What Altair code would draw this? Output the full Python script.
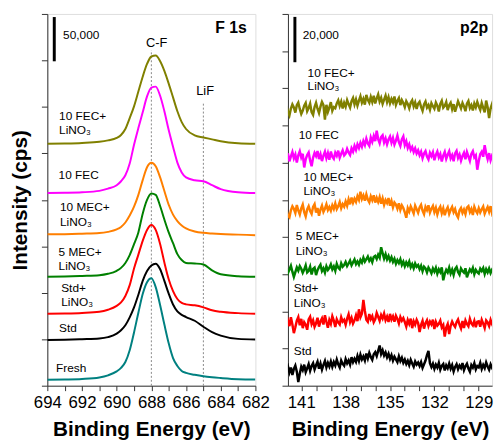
import altair as alt
import pandas as pd

FONT = "Liberation Sans"

# ---------------- F 1s panel data (intensity in kcps) ----------------
f1s_energy = [694, 693, 692, 691, 690.5, 690, 689.75, 689.5, 689.25, 689, 688.75, 688.5,
              688.25, 688, 687.75, 687.5, 687.25, 687, 686.75, 686.5, 686.25, 686, 685.5,
              685, 684.5, 684, 683, 682]
f1s_samples = ["10 FEC+LiNO3", "10 FEC", "10 MEC+LiNO3", "5 MEC+LiNO3", "Std+LiNO3", "Std", "Fresh"]
f1s_colors = ["#808000", "#FF00FF", "#FF7F00", "#008000", "#FF0000", "#000000", "#008080"]
f1s_offsets = [273.3, 217.6, 171.0, 123.1, 81.3, 51.6, 6.7]
f1s_fec_lino3 = [0, 0.3, 0.9, 2.2, 3.9, 6.7, 10.0, 16.7, 29.0, 42.3, 59.0, 75.8, 90.2, 98.6,
                 99.7, 93.6, 82.4, 68.0, 52.4, 36.8, 24.5, 16.7, 9.5, 7.2, 5.0, 2.8, 0.6, 0]
f1s_fec = [0, 0.3, 0.9, 2.5, 5.0, 8.9, 13.4, 20.1, 33.4, 54.6, 73.5, 91.3, 109.2, 119.2,
           120.3, 110.3, 92.5, 71.3, 52.4, 34.5, 23.4, 17.8, 14.5, 13.4, 8.9, 4.5, 0.9, 0]
f1s_mec10 = [0, 0.2, 0.7, 1.4, 2.8, 5.6, 8.4, 13.4, 21.2, 31.2, 44.6, 61.3, 75.8, 80.8,
             76.9, 64.6, 49.0, 33.4, 22.3, 15.0, 10.0, 6.7, 3.3, 1.7, 0.9, 0.3, -0.3, -0.9]
f1s_mec5 = [0, 0.3, 0.9, 1.7, 3.3, 6.7, 10.0, 15.6, 24.5, 36.8, 50.1, 71.3, 86.9, 94.1,
            92.5, 80.2, 64.6, 50.1, 37.9, 25.6, 18.9, 15.6, 15.0, 13.9, 7.2, 2.8, 0.6, 0]
f1s_std_lino3 = [0, 0.3, 0.9, 2.2, 4.5, 8.9, 12.8, 20.1, 32.3, 51.2, 66.8, 82.4, 94.7, 100.3,
                 94.7, 79.1, 57.9, 39.0, 25.6, 16.7, 12.3, 10.6, 9.5, 7.2, 3.9, 2.2, 0.7, 0]
f1s_std = [0, 0.3, 0.9, 1.7, 3.3, 7.2, 11.1, 16.7, 25.6, 36.8, 51.2, 66.8, 78.0, 84.1,
           86.2, 80.2, 66.8, 52.4, 40.1, 32.3, 28.5, 26.0, 21.8, 15.0, 8.9, 5.0, 1.3, 0.6]
f1s_fresh = [0, 0.3, 0.9, 2.6, 5.0, 9.5, 13.4, 20.1, 33.4, 53.5, 75.8, 96.9, 110.3, 114.7,
             104.7, 84.7, 62.4, 41.2, 24.5, 15.6, 10.0, 7.8, 5.6, 3.9, 2.8, 2.0, 0.7, 0.3]
f1s_profiles = [f1s_fec_lino3, f1s_fec, f1s_mec10, f1s_mec5, f1s_std_lino3, f1s_std, f1s_fresh]

# ---------------- P 2p panel data (intensity in kcps) ----------------
p2p_energy = [142.0, 141.9, 141.8, 141.7, 141.6, 141.5, 141.4, 141.3, 141.2, 141.1,
              141.0, 140.9, 140.8, 140.7, 140.6, 140.5, 140.4, 140.3, 140.2, 140.1,
              140.0, 139.9, 139.8, 139.7, 139.6, 139.5, 139.4, 139.3, 139.2, 139.1,
              139.0, 138.9, 138.8, 138.7, 138.6, 138.5, 138.4, 138.3, 138.2, 138.1,
              138.0, 137.9, 137.8, 137.7, 137.6, 137.5, 137.4, 137.3, 137.2, 137.1,
              137.0, 136.9, 136.8, 136.7, 136.6, 136.5, 136.4, 136.3, 136.2, 136.1,
              136.0, 135.9, 135.8, 135.7, 135.6, 135.5, 135.4, 135.3, 135.2, 135.1,
              135.0, 134.9, 134.8, 134.7, 134.6, 134.5, 134.4, 134.3, 134.2, 134.1,
              134.0, 133.9, 133.8, 133.7, 133.6, 133.5, 133.4, 133.3, 133.2, 133.1,
              133.0, 132.9, 132.8, 132.7, 132.6, 132.5, 132.4, 132.3, 132.2, 132.1,
              132.0, 131.9, 131.8, 131.7, 131.6, 131.5, 131.4, 131.3, 131.2, 131.1,
              131.0, 130.9, 130.8, 130.7, 130.6, 130.5, 130.4, 130.3, 130.2, 130.1,
              130.0, 129.9, 129.8, 129.7, 129.6, 129.5, 129.4, 129.3, 129.2, 129.1,
              129.0, 128.9, 128.8, 128.7, 128.6, 128.5, 128.4, 128.3, 128.2, 128.1,
              128.0]
p2p_samples = ["10 FEC+LiNO3", "10 FEC", "10 MEC+LiNO3", "5 MEC+LiNO3", "Std+LiNO3", "Std"]
p2p_colors = ["#808000", "#FF00FF", "#FF7F00", "#008000", "#FF0000", "#000000"]
p2p_offsets = [121.9, 100.9, 77.0, 50.9, 27.8, 6.5]
p2p_fec_lino3 = [1.5, -1.0, -2.6, 0.4, 2.2, 0.9, -1.4, 1.8, 3.0, 0.2,
                 -2.0, -0.5, 1.6, 2.8, -0.8, 0.6, 2.5, -1.2, -2.4, 1.0,
                 2.9, 0.3, -1.6, 1.2, 3.3, 1.9, -4.5, 2.0, -1.1, 0.8,
                 3.2, -0.6, 1.0, 0.5, 2.6, 4.0, 1.5, 3.4, 0.4, 2.9,
                 1.2, 4.1, 2.3, 0.8, 3.6, 5.0, 2.2, 4.4, 1.7, 3.9,
                 5.8, 3.0, 4.6, 2.1, 6.4, 4.2, 2.9, 5.5, 3.3, 6.0,
                 2.6, 4.8, 6.6, 3.5, 5.1, 2.4, 4.3, 6.1, 3.2, 5.4,
                 2.7, 4.6, 3.1, 5.7, 2.0, 3.8, 5.0, 1.9, 4.1, 2.8,
                 1.0, 3.6, 2.4, 0.5, 2.9, 4.0, 1.3, 3.1, 0.2, 2.5,
                 3.4, 1.1, -0.6, 2.2, 3.5, 0.8, 1.9, -0.2, 2.7, 1.4,
                 0.3, 3.0, 1.6, -0.9, 2.4, 3.8, 0.7, 1.5, 3.2, -0.3,
                 1.8, 2.9, 0.1, 2.3, -1.0, 1.2, 3.6, 2.0, 0.4, 2.8,
                 1.3, -0.8, 2.5, 3.7, 0.6, 1.9, -0.5, 2.6, 0.9, 3.3,
                 1.4, -0.2, 2.8, 0.7, -1.3, 3.9, 1.0, -3.8, 0.5, 2.4,
                 -0.6]
p2p_fec = [-0.8, 1.6, -1.9, 0.3, 2.2, -0.6, 1.1, -2.4, 0.7, 2.5,
           -0.2, 1.4, -4.6, -1.0, 0.9, 2.0, -1.5, -4.1, -0.3, 1.8,
           0.4, 2.6, -0.9, 1.2, -1.8, 0.6, 2.3, -0.5, 1.7, -1.2,
           2.4, 0.1, -0.8, 1.9, 0.5, 2.8, -0.3, 1.4, 2.9, 0.7,
           1.5, 3.6, 2.0, 0.9, 3.8, 2.4, 4.9, 3.1, 5.6, 4.0,
           6.2, 4.5, 7.0, 5.3, 8.1, 6.0, 4.9, 8.6, 6.7, 9.2,
           7.0, 11.6, 7.9, 6.1, 8.8, 9.6, 6.4, 8.2, 5.6, 7.7,
           9.0, 6.3, 8.4, 5.5, 7.2, 9.4, 6.6, 4.9, 7.8, 9.1,
           5.2, 6.9, 4.0, 5.6, 3.1, 4.4, 2.2, 3.8, 1.6, 2.9,
           0.8, 2.3, -0.5, 1.5, 2.6, 0.2, -1.1, 1.8, 0.4, 2.1,
           -1.4, 0.9, 2.4, -0.2, 1.3, -2.0, 0.6, 2.2, -0.8, 1.0,
           2.5, -0.6, 0.8, -1.9, 1.6, 2.7, -0.4, 1.1, -1.6, 0.5,
           1.9, -1.0, 2.2, 0.3, -1.7, 1.4, 2.6, -0.2, 0.7, -5.6,
           -1.8, 1.2, 2.3, 0.1, 5.2, 1.5, -0.9, 1.7, -1.4, 0.6,
           -0.5]
p2p_mec10 = [0.6, -1.9, -2.7, 0.4, 2.1, 1.0, -0.8, 2.7, 0.3, -1.5,
             1.2, 2.9, -0.4, -2.3, 0.8, 2.2, 0.1, -1.2, 1.9, 3.1,
             -0.6, 1.4, -2.0, 0.7, 2.4, -0.3, 1.1, 3.0, 0.5, 1.8,
             0.2, 2.6, 1.0, 3.4, 0.9, 2.2, 4.0, 1.3, 3.1, 2.0,
             4.3, 2.4, 5.2, 3.0, 6.0, 3.7, 5.5, 4.1, 6.6, 5.0,
             8.6, 5.4, 6.9, 4.6, 7.4, 5.1, 3.9, 6.5, 4.8, 7.0,
             3.8, 5.9, 4.1, 6.2, 3.3, 5.6, 2.8, 4.9, 3.6, 5.8,
             2.4, 4.5, 1.7, 3.8, 2.9, 1.1, 3.5, 0.6, 2.6, 1.4,
             -0.5, -2.9, 1.3, -0.2, 2.1, 0.6, -1.0, 2.4, 0.9, -0.7,
             1.6, 2.8, 0.2, -1.3, 1.9, 0.5, 2.6, -0.6, 1.1, 2.3,
             -0.4, 1.5, -1.4, 0.8, 2.0, -0.9, 1.2, -1.8, 0.4, 1.7,
             -1.2, 0.6, 1.9, -0.5, 0.9, -1.6, -2.8, 0.3, 1.4, -0.8,
             0.7, -1.3, 1.6, 2.2, -0.4, 1.0, -1.7, 1.9, 0.2, -0.9,
             1.3, -0.6, 0.8, 2.0, -1.1, 0.5, 1.8, -0.3, 2.2, -1.0,
             0.4]
p2p_mec5 = [1.0, -1.2, 0.4, 2.0, -0.6, -2.9, -0.8, 1.3, -0.1, 1.9,
            0.7, -1.1, 0.3, 2.2, -0.9, -0.2, 1.6, -1.8, 0.6, 1.2,
            -2.1, 0.1, 1.4, 2.5, -0.3, 0.9, -1.0, 1.8, 0.2, 1.1,
            2.6, 0.4, 1.7, -0.2, 2.9, 1.2, 0.5, 3.1, 1.6, 2.3,
            3.7, 1.9, 3.0, 4.3, 2.2, 3.5, 4.8, 2.7, 3.9, 2.5,
            4.6, 3.4, 5.6, 3.8, 4.9, 6.1, 4.2, 5.3, 3.6, 5.9,
            6.4, 5.0, 6.9, 5.6, 10.2, 7.6, 5.2, 7.1, 4.8, 6.3,
            4.3, 5.8, 3.7, 5.1, 2.9, 4.5, 3.2, 4.9, 2.4, 3.8,
            1.8, 3.5, 2.2, 3.9, 1.4, 2.7, 0.9, 3.0, 1.6, 2.3,
            0.5, 2.0, -0.4, 1.6, 0.9, -0.9, 1.2, 0.1, -1.3, 0.8,
            -0.6, 1.1, -1.5, 0.4, -0.8, 1.3, -4.4, -1.6, 0.2, -0.9,
            1.2, -1.4, 0.3, -2.0, 0.6, 1.5, -0.7, -1.9, 0.8, -0.3,
            -1.0, 0.9, -3.1, -1.2, 0.4, -0.6, 1.1, -1.7, 0.2, -0.8,
            -1.4, 0.7, -0.3, 1.0, -1.6, 0.5, -0.9, 0.8, -1.2, 0.3,
            -0.4]
p2p_std_lino3 = [3.2, 1.0, -1.5, 2.4, -0.8, -4.6, -2.0, 0.9, 2.5, -1.1,
                 1.7, -2.4, 0.2, -0.9, -3.1, 1.4, 2.6, -0.6, 1.0, -1.8,
                 -0.3, 2.2, -1.7, 0.6, 1.9, -0.8, 3.3, 0.4, -2.2, 1.2,
                 -0.5, 2.8, 0.9, -1.9, 1.5, 0.1, -0.8, 2.4, 0.5, 1.3,
                 -0.9, 1.8, 3.7, 0.3, 2.1, -0.4, 1.0, 3.2, 0.7, 5.9,
                 2.4, 4.0, 10.1, 5.2, 1.3, 0.4, 3.8, 1.6, 2.9, 0.2,
                 1.5, 4.3, 2.6, 0.8, 3.4, 1.9, 4.0, 1.1, 2.7, 0.3,
                 3.9, 1.4, 2.8, 0.4, 3.1, 1.7, -0.3, 2.5, 0.9, 2.0,
                 0.3, -1.7, 1.2, -0.5, 1.8, -2.4, 0.6, -0.9, 1.3, -0.2,
                 -4.1, -1.0, 0.8, -2.6, -0.2, 1.1, -1.4, 0.5, -0.7, 1.3,
                 -2.8, 0.4, -1.3, -0.5, 0.9, -2.1, -1.0, -6.1, -2.2, -0.6,
                 -5.0, -1.4, 0.5, -0.9, -1.9, 0.2, 1.4, -0.8, -2.5, 0.7,
                 -2.3, 1.0, -0.6, -1.6, 1.7, -0.3, -1.2, 0.8, -2.0, 0.4,
                 0.6, -1.8, 1.3, -0.4, -2.3, 1.0, 0.1, -1.5, 1.2, -0.7,
                 -2.0]
p2p_std = [0.8, 2.1, -0.6, 1.5, -1.8, 0.9, 2.4, -0.3, -4.9, -1.2,
           1.9, 0.4, 2.8, -0.5, 1.2, 3.0, 0.1, 2.2, 3.4, 0.7,
           2.5, 4.1, 1.0, 3.3, 0.6, 2.7, 4.4, 1.6, 3.6, 2.0,
           4.2, 1.8, 3.9, 2.4, 5.0, 2.9, 1.5, 4.6, 3.1, 2.3,
           5.2, 3.4, 4.7, 2.8, 6.1, 3.9, 5.4, 4.0, 6.6, 4.4,
           7.2, 5.1, 6.4, 4.6, 7.7, 5.5, 8.0, 6.2, 4.9, 7.4,
           8.3, 6.6, 8.9, 11.2, 7.5, 9.1, 6.8, 8.2, 6.0, 7.6,
           5.3, 7.0, 4.6, 6.3, 5.1, 3.9, 6.5, 4.4, 5.8, 3.6,
           5.0, 3.1, 4.5, 2.6, 4.9, 3.3, 1.9, 4.2, 2.8, 3.7,
           2.2, 3.9, 1.4, 3.0, 4.6, 7.0, 8.9, 3.4, 1.7, 3.2,
           0.9, 2.8, 1.5, 3.6, 0.6, 2.3, 3.1, 0.2, 2.5, 1.2,
           3.3, 1.0, 2.6, -0.2, 1.8, 3.0, 0.8, 2.4, 1.3, 3.5,
           0.4, 2.1, 3.2, 1.1, -0.3, 2.6, 1.5, 3.4, 0.7, 2.2,
           1.6, 3.6, 0.9, 2.7, 1.3, 3.8, 2.0, 0.6, 2.9, 1.4,
           2.3]
p2p_profiles = [p2p_fec_lino3, p2p_fec, p2p_mec10, p2p_mec5, p2p_std_lino3, p2p_std]

# ---------------- annotations ----------------
f1s_label_text = ["10 FEC+", "LiNO₃", "10 FEC", "10 MEC+", "LiNO₃", "5 MEC+", "LiNO₃",
                  "Std+", "LiNO₃", "Std", "Fresh"]
f1s_label_x = [693.32, 693.32, 693.35, 693.27, 693.27, 693.35, 693.35, 693.2, 693.2, 693.32, 693.5]
f1s_label_y = [305.2, 288.5, 238.4, 201.6, 184.9, 151.5, 134.8, 110.3, 94.7, 64.6, 20.1]
f1s_ref_E = [688, 685]
f1s_ref_top = [379, 320]
f1s_ref_text = ["C-F", "LiF"]
f1s_ref_text_x = [687.7, 684.9]
f1s_ref_text_y = [386.6, 333.0]

p2p_label_text = ["10 FEC+", "LiNO₃", "10 FEC", "10 MEC+", "LiNO₃", "5 MEC+", "LiNO₃",
                  "Std+", "LiNO₃", "Std"]
p2p_label_x = [140.57, 140.57, 141.17, 140.85, 140.85, 141.37, 141.37, 141.5, 141.5, 141.5]
p2p_label_y = [137.9, 132.2, 110.5, 92.2, 85.7, 66.1, 59.6, 43.1, 36.5, 15.2]


def spectra_df(energy, samples, offsets, profiles):
    rows = []
    for s, off, prof in zip(samples, offsets, profiles):
        for e, v in zip(energy, prof):
            rows.append({"E": e, "I": off + v, "sample": s})
    return pd.DataFrame(rows)


f1s_df = spectra_df(f1s_energy, f1s_samples, f1s_offsets, f1s_profiles)
p2p_df = spectra_df(p2p_energy, p2p_samples, p2p_offsets, p2p_profiles)

axis_common = dict(grid=False, domainColor="#333333", tickColor="#333333",
                   labelFont=FONT, titleFont=FONT, labelColor="black", titleColor="black")


def x_enc(field, domain, values, label_expr):
    return alt.X(field, type="quantitative",
                 scale=alt.Scale(domain=domain, nice=False, zero=False),
                 axis=alt.Axis(values=values, labelExpr=label_expr, title="Binding Energy (eV)",
                               labelFontSize=17, titleFontSize=21, titleFontWeight="bold",
                               tickSize=5, labelPadding=4, titlePadding=9,
                               labelOverlap=False, labelFlush=False, labelBound=False,
                               **axis_common))


def y_enc(field, domain, values, title, title_pad):
    return alt.Y(field, type="quantitative",
                 scale=alt.Scale(domain=domain, nice=False, zero=False),
                 axis=alt.Axis(values=values, labels=False, title=title,
                               titleFontSize=21, titleFontWeight="bold", tickSize=6,
                               titlePadding=title_pad, **axis_common))


# ---------------- left panel ----------------
lx = lambda f: x_enc(f, [694, 682], list(range(682, 695)), "datum.value % 2 == 0 ? datum.label : ''")
ly = lambda f: y_enc(f, [0, 420], [0, 52.5, 105, 157.5, 210, 262.5, 315, 367.5, 420],
                     "Intensity (cps)", 11)

f1s_refs = pd.DataFrame({"E": f1s_ref_E, "y0": [0, 0], "y1": f1s_ref_top})
left_rules = alt.Chart(f1s_refs).mark_rule(strokeDash=[2, 2], color="#888888", strokeWidth=1).encode(
    x=lx("E"), y=ly("y0"), y2="y1")
left_lines = alt.Chart(f1s_df).mark_line(strokeWidth=2, interpolate="monotone", clip=True).encode(
    x=lx("E"), y=ly("I"),
    color=alt.Color("sample:N", scale=alt.Scale(domain=f1s_samples, range=f1s_colors), legend=None))
left_labels = alt.Chart(pd.DataFrame({"x": f1s_label_x, "y": f1s_label_y, "t": f1s_label_text})).mark_text(
    align="left", baseline="middle", font=FONT, fontSize=12, color="black").encode(
    x=lx("x"), y=ly("y"), text="t:N")
left_refs_text = alt.Chart(pd.DataFrame({"x": f1s_ref_text_x, "y": f1s_ref_text_y, "t": f1s_ref_text})).mark_text(
    align="center", baseline="middle", font=FONT, fontSize=13, color="black").encode(
    x=lx("x"), y=ly("y"), text="t:N")
left_bar = alt.Chart(pd.DataFrame({"x": [693.6], "y0": [366.5], "y1": [416.5]})).mark_rule(
    strokeWidth=3, color="black").encode(x=lx("x"), y=ly("y0"), y2="y1")
left_bar_text = alt.Chart(pd.DataFrame({"x": [693.09], "y": [396.6], "t": ["50,000"]})).mark_text(
    align="left", baseline="middle", font=FONT, fontSize=12, color="black").encode(
    x=lx("x"), y=ly("y"), text="t:N")
left_title = alt.Chart(pd.DataFrame({"x": [682.5], "y": [404.4], "t": ["F 1s"]})).mark_text(
    align="right", baseline="middle", font=FONT, fontSize=16, fontWeight="bold", color="black").encode(
    x=lx("x"), y=ly("y"), text="t:N")

left = alt.layer(left_rules, left_lines, left_labels, left_refs_text, left_bar, left_bar_text,
                 left_title).properties(width=211, height=377)

# ---------------- right panel ----------------
rx = lambda f: x_enc(f, [141.9, 128.1], list(range(129, 142)),
                     "(datum.value - 129) % 3 == 0 ? datum.label : ''")
ry = lambda f: y_enc(f, [0, 164], [0, 16.4, 32.8, 49.2, 65.6, 82, 98.4, 114.8, 131.2, 147.6, 164],
                     None, 0)

right_lines = alt.Chart(p2p_df).mark_line(strokeWidth=2.5, interpolate="linear", clip=True).encode(
    x=rx("E"), y=ry("I"),
    color=alt.Color("sample:N", scale=alt.Scale(domain=p2p_samples, range=p2p_colors), legend=None))
right_labels = alt.Chart(pd.DataFrame({"x": p2p_label_x, "y": p2p_label_y, "t": p2p_label_text})).mark_text(
    align="left", baseline="middle", font=FONT, fontSize=12, color="black").encode(
    x=rx("x"), y=ry("y"), text="t:N")
right_bar = alt.Chart(pd.DataFrame({"x": [141.43], "y0": [142.7], "y1": [162.7]})).mark_rule(
    strokeWidth=3, color="black").encode(x=rx("x"), y=ry("y0"), y2="y1")
right_bar_text = alt.Chart(pd.DataFrame({"x": [140.9], "y": [154.9], "t": ["20,000"]})).mark_text(
    align="left", baseline="middle", font=FONT, fontSize=12, color="black").encode(
    x=rx("x"), y=ry("y"), text="t:N")
right_title = alt.Chart(pd.DataFrame({"x": [128.37], "y": [157.9], "t": ["p2p"]})).mark_text(
    align="right", baseline="middle", font=FONT, fontSize=16, fontWeight="bold", color="black").encode(
    x=rx("x"), y=ry("y"), text="t:N")

right = alt.layer(right_lines, right_labels, right_bar, right_bar_text, right_title).properties(
    width=207, height=377)

chart = alt.hconcat(left, right, spacing=33, bounds="flush").properties(
    padding={"left": 9, "top": 10, "right": 3, "bottom": 2},
    autosize=alt.AutoSizeParams(type="pad"),
).configure_view(stroke="#333333", strokeWidth=1).configure(background="white")

chart.save("out.html", embed_options={"renderer": "svg", "actions": False})
